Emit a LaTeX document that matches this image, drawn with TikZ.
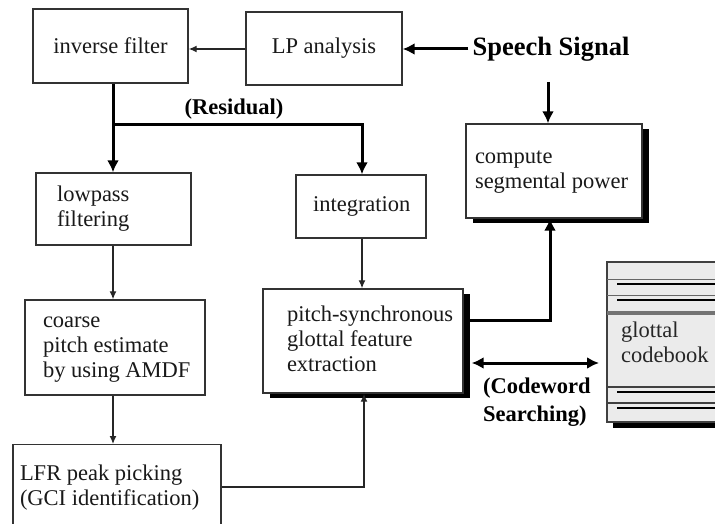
\documentclass[tikz,border=0pt]{standalone}
\usepackage{fontspec}
\setmainfont{Liberation Serif}
\usetikzlibrary{arrows.meta,shadows}
\newcommand\boxtext[3]{\makebox[#2][l]{\hspace*{#1}\begin{tabular}{@{}l@{}}#3\end{tabular}}}
\begin{document}
\begin{tikzpicture}[x=1pt,y=-1pt,
  box/.style={draw=black!80, line width=1.4pt, fill=white, rectangle, align=left,
    inner xsep=0pt, inner ysep=0pt, text=black!90, font=\fontsize{22.5}{25}\selectfont},
  shadowed/.style={general shadow={fill=black, shadow xshift=6.5pt, shadow yshift=-5pt}},
  thin/.style={line width=1.3pt, draw=black!85, -{Latex[length=8pt,width=7pt]}},
  thickarr/.style={line width=3pt, -{Latex[length=12pt,width=12pt]}},
  lbl/.style={font=\fontsize{22.5}{28}\selectfont\bfseries, align=left, inner sep=0pt}]
\useasboundingbox (0,0) rectangle (715,524);
\begin{scope}
\clip (0,0) rectangle (715,524);
% boxes
\node[box, minimum width=155pt, minimum height=74pt, align=center] (inv) at (110.5,46) {\raisebox{-4pt}{inverse filter}};
\node[box, minimum width=156pt, minimum height=73pt, align=center] (lp) at (324,48.5) {\raisebox{-3pt}{LP analysis}};
\node[lbl, font=\fontsize{26.5}{30}\selectfont\bfseries] (speech) at (551,49) {Speech Signal};
\node[box, shadowed, minimum height=94pt] (comp) at (554,171) {\boxtext{9pt}{176pt}{compute\\segmental power}};
\node[box, minimum height=72pt] (low) at (113.5,209) {\boxtext{21pt}{155pt}{lowpass\\filtering}};
\node[box, minimum height=63pt] (integ) at (361,206.5) {\boxtext{17pt}{130pt}{integration}};
\node[box, shadowed, minimum height=104pt] (pitch) at (363,341) {\boxtext{24pt}{200pt}{pitch-synchronous\\glottal feature\\extraction}};
\node[box, minimum height=95pt] (coarse) at (115,347.5) {\boxtext{18pt}{180pt}{coarse\\pitch estimate\\by using AMDF}};
\node[box, minimum height=86pt, anchor=north] (lfr) at (117,444) {\raisebox{5pt}{\boxtext{7pt}{208pt}{LFR peak picking\\(GCI identification)}}};
% codebook
\fill[black] (613,422) rectangle (725,428);
\filldraw[fill=black!8, draw=black!75, line width=1.5pt] (607,262) rectangle (725,422);
\draw[black!60, line width=1pt] (607,279) -- (725,279);
\draw[black, line width=2pt] (617,283.5) -- (725,283.5);
\draw[black!60, line width=1pt] (607,295) -- (725,295);
\draw[black, line width=2pt] (617,300) -- (725,300);
\draw[black!55, line width=4pt] (607,313) -- (725,313);
\draw[black!75, line width=1.5pt] (607,387) -- (725,387);
\draw[black, line width=2pt] (617,392) -- (725,392);
\draw[black!75, line width=1.5pt] (607,403) -- (725,403);
\draw[black, line width=2pt] (617,407.5) -- (725,407.5);
\node[anchor=north west, inner sep=0pt, align=left, font=\fontsize{22.5}{25}\selectfont, text=black!85] (cb) at (621,322) {glottal\\codebook};
\coordinate (cbw) at (607,363);
% connectors
\draw[thin] (lp.west |- 0,49) -- (inv.east |- 0,49);
\draw[thickarr] ([xshift=-4pt]speech.west) -- (lp.east |- speech.west);
\coordinate (ssb) at (548,82);
\draw[thickarr] (ssb) -- (ssb |- comp.north);
\coordinate (br) at (113,125);
\coordinate (br2) at (362,125);
\draw[thickarr] (inv.south -| br) -- (br |- low.north);
\draw[thickarr] (br) -- (br2) -- (br2 |- integ.north);
\node[lbl, anchor=south] (resid) at (234,119) {(Residual)};
\draw[thin] (low.south -| br) -- (br |- coarse.north);
\draw[thin] (coarse.south -| br) -- (br |- lfr.north);
\draw[thin] (integ.south -| br2) -- (br2 |- pitch.north);
\coordinate (lc) at (364,487);
\draw[thin] (lfr.east |- lc) -- (lc) -- (lc |- pitch.south);
\coordinate (pc) at (550,320);
\draw[thickarr] ([xshift=6pt]pitch.east |- pc) -- (pc) -- (pc |- comp.south);
\draw[line width=3pt, {Latex[length=12pt,width=12pt]}-{Latex[length=12pt,width=12pt]}] ([xshift=8pt]pitch.east |- cbw) -- ([xshift=-8pt]cbw);
\node[lbl, anchor=north west] (cw) at (483,378) {(Codeword\\Searching)};
\end{scope}
\end{tikzpicture}
\end{document}
